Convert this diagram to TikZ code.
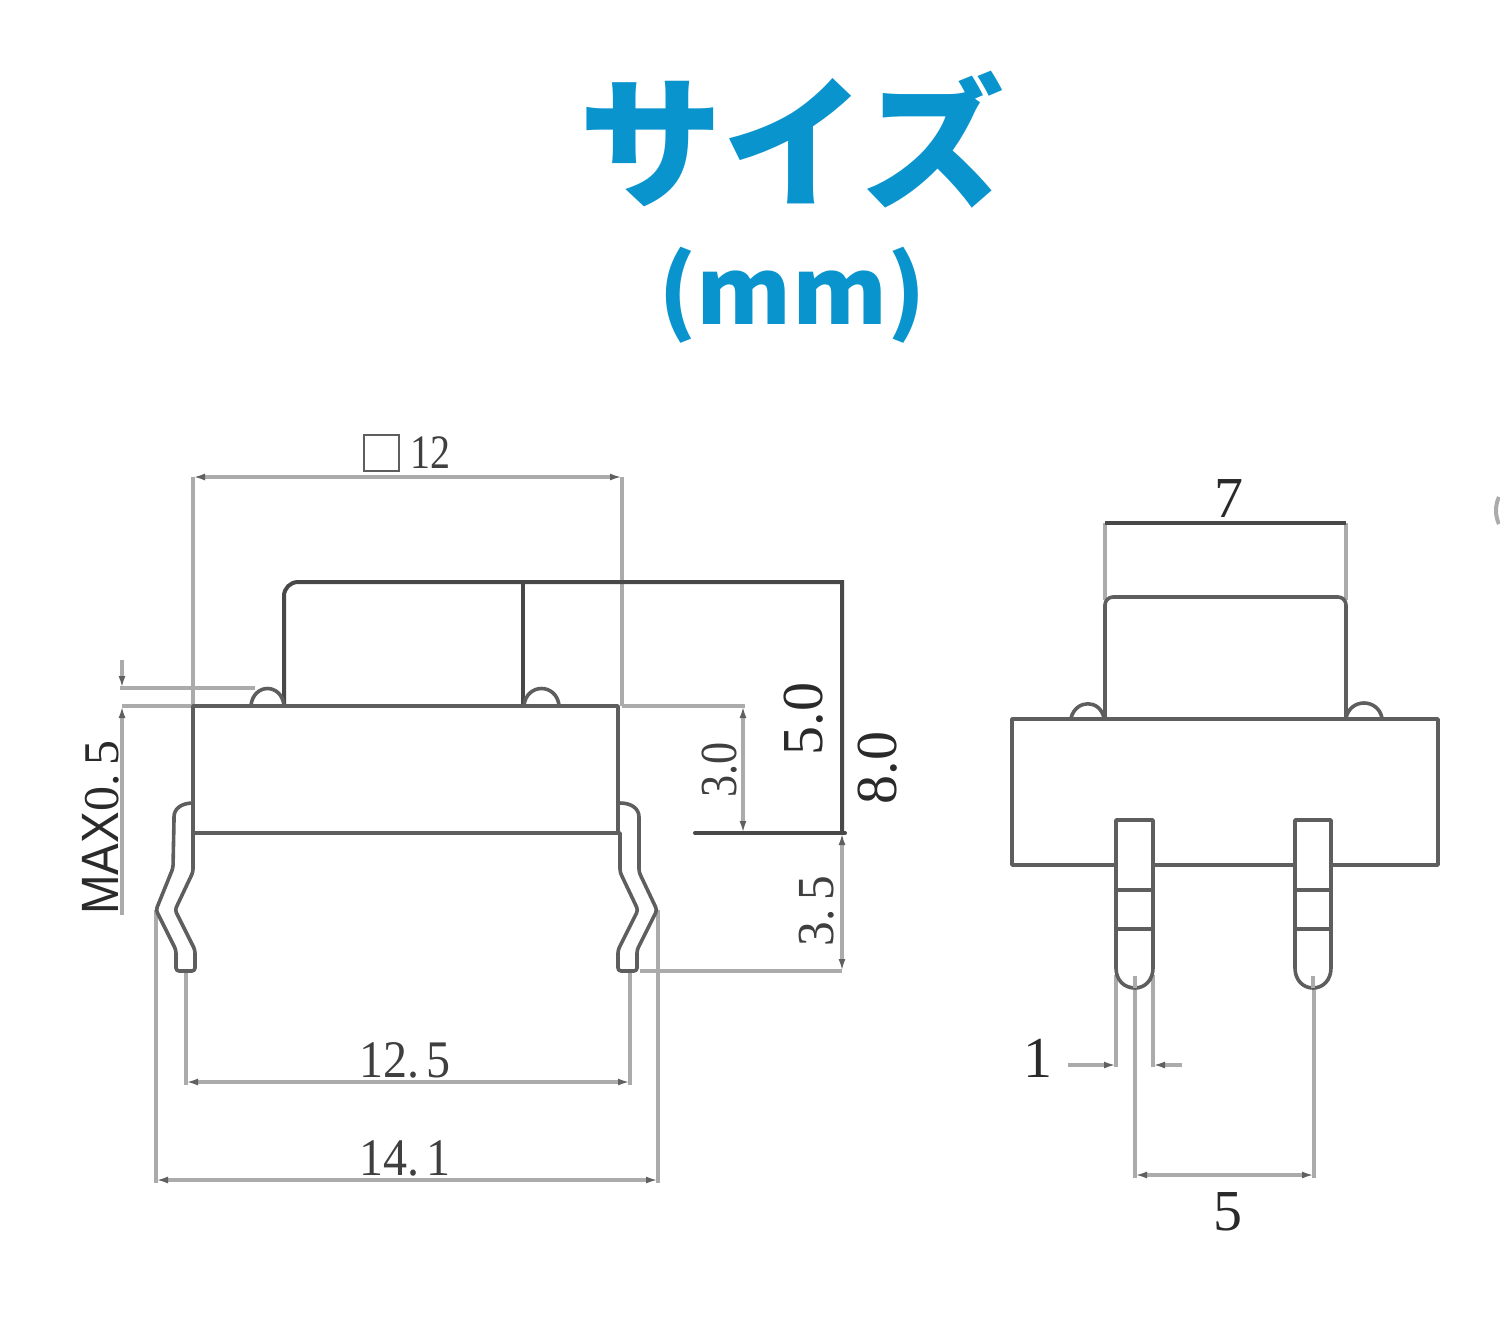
\documentclass[tikz,border=0pt]{standalone}
\usepackage{fontspec}
\usetikzlibrary{arrows.meta}
\setmainfont{Liberation Serif}
\newfontfamily\cjkfont{Noto Sans CJK JP}
\newfontfamily\sansfont{Liberation Sans}
\newcommand{\fsz}[1]{\fontsize{#1}{#1}\selectfont}
\definecolor{titleblue}{HTML}{0A94CE}
\definecolor{darkline}{HTML}{484848}
\definecolor{midline}{HTML}{5E5E5E}
\definecolor{dimline}{HTML}{ABABAB}
\definecolor{tipcol}{HTML}{606060}
\definecolor{txtcol}{HTML}{2A2A2A}
\tikzset{
  part/.style={draw=midline,line width=1.8pt,line join=round,line cap=round},
  pin/.style={part,rounded corners=1.5pt},
  heavy/.style={draw=darkline,line width=2pt,line cap=round},
  ext/.style={draw=dimline,line width=1.6pt},
  tipmark/.tip={Latex[length=6pt,width=3.5pt,color=tipcol]},
  dimarrow/.style={draw=dimline,line width=1.6pt,{tipmark}-{tipmark}},
  lab/.style={inner sep=0pt,text=txtcol},
  soft/.style={inner sep=0pt,text=txtcol!90!white},
}
\begin{document}
\begin{tikzpicture}[x=0.5pt,y=-0.5pt]
\useasboundingbox (0,0) rectangle (1500,1330);
% title
\node[inner sep=0pt,text=titleblue] (title) at (792,140) {\cjkfont\bfseries\fsz{71.5}サイズ};
\node[inner sep=0pt,text=titleblue] (unit) at (792,295) {\cjkfont\bfseries\fsz{46}\scalebox{1.05}[1]{(mm)}};

% ---- left view: dimension lines
\draw[ext] (193,477) -- (193,706);
\draw[ext] (622,477) -- (622,706);
\draw[dimarrow] (193,477) -- (622,477);
\draw[ext] (120,688) -- (255,688);
\draw[ext] (122,706) -- (193,706);
\draw[ext] (622,706) -- (745,706);
\draw[ext,-{tipmark}] (122,660) -- (122,688);
\draw[ext,-{tipmark}] (122,915) -- (122,706);
\draw[dimarrow] (743,706) -- (743,833);
\draw[ext] (640,971) -- (842,971);
\draw[dimarrow] (842,833) -- (842,971);
\draw[ext] (156,910) -- (156,1183);
\draw[ext] (658,910) -- (658,1183);
\draw[ext] (186,971) -- (186,1085);
\draw[ext] (630,971) -- (630,1085);
\draw[dimarrow] (186,1082) -- (630,1082);
\draw[dimarrow] (156,1180) -- (658,1180);

% ---- left view: part
\draw[heavy] (284,706) -- (284,596) arc[start angle=180,end angle=270,radius=14] -- (842,582) -- (842,833);
\draw[heavy] (523,582) -- (523,706);
\draw[part] (193,706) -- (618,706) -- (618,833) -- (193,833) -- cycle;
\draw[heavy] (695,833) -- (845,833);
\draw[part] (251,705) .. controls (254,683) and (281,683) .. (284,705);
\draw[part] (524,705) .. controls (527,683) and (556,683) .. (559,705);
% left pin
\draw[pin] (193,803) .. controls (181,803) and (174,809) .. (174,820) -- (173,868) -- (156,910) -- (176,950) -- (176,971) -- (195,971) -- (195,950) -- (175,910) -- (193,872) -- (193,833);
% right pin
\draw[pin] (620,803) .. controls (632,803) and (639,809) .. (639,820) -- (639,872) -- (657,910) -- (637,950) -- (637,971) -- (618,971) -- (618,950) -- (638,910) -- (620,872) -- (620,833);

% ---- left view: labels
\draw[draw=midline,line width=1.3pt] (364,435) rectangle (399,471);
\node[soft] (lab12) at (430,453) {\fsz{20}\scalebox{1}[1.2]{12}};
\node[soft] (lab125) at (405,1060) {\fsz{24}\scalebox{1}[1.1]{12.\,5}};
\node[soft] (lab141) at (405,1158) {\fsz{24}\scalebox{1}[1.1]{14.\,1}};
\node[soft,rotate=90] (lab30) at (720,770) {\fsz{26}\scalebox{0.85}[1.0]{3.0}};
\node[soft,rotate=90] (lab35) at (817,911) {\fsz{26}\scalebox{0.95}[1.0]{3.\,5}};
\node[lab,rotate=90] (lab50) at (804,719) {\fsz{29}5.0};
\node[lab,rotate=90] (lab80) at (878,768) {\fsz{29}8.0};
\node[lab,rotate=90,anchor=west] (labmax) at (101,915) {\fsz{25}\scalebox{0.95}[1.05]{\sansfont MAX}\scalebox{1}[1.0]{0.\,5}};

% ---- right view: dimension lines
\draw[ext] (1105,523) -- (1105,600);
\draw[ext] (1346,523) -- (1346,600);
\draw[draw=darkline,line width=1.6pt] (1105,523) -- (1346,523);
\draw[ext] (1116,975) -- (1116,1067);
\draw[ext] (1153,975) -- (1153,1067);
\draw[ext,-{tipmark}] (1068,1065) -- (1116,1065);
\draw[ext,-{tipmark}] (1182,1065) -- (1153,1065);
\draw[ext] (1135,975) -- (1135,1178);
\draw[ext] (1314,975) -- (1314,1178);
\draw[dimarrow] (1135,1175) -- (1314,1175);

% ---- right view: part
\draw[part] (1105,719) -- (1105,605) arc[start angle=180,end angle=270,radius=8] -- (1338,597) arc[start angle=270,end angle=360,radius=8] -- (1346,719);
\draw[part] (1071,718) .. controls (1076,699) and (1100,699) .. (1104,718);
\draw[part] (1346,718) .. controls (1350,698) and (1378,698) .. (1382,718);
\draw[part] (1012,719) rectangle (1438,865);
\draw[part,fill=white] (1116,820) -- (1153,820) -- (1153,968) .. controls (1153,980) and (1145,988) .. (1135,988) .. controls (1124,988) and (1116,980) .. (1116,968) -- cycle;
\draw[part,fill=white] (1295,820) -- (1331,820) -- (1331,968) .. controls (1331,980) and (1323,988) .. (1313,988) .. controls (1303,988) and (1295,980) .. (1295,968) -- cycle;
\draw[part] (1116,890) -- (1153,890);
\draw[part] (1116,929) -- (1153,929);
\draw[part] (1295,890) -- (1331,890);
\draw[part] (1295,929) -- (1331,929);
\draw[ext] (1135,976) -- (1135,988);
\draw[ext] (1313,976) -- (1313,988);

% ---- right view: labels
\node[lab] (lab7) at (1229,498) {\fsz{29}7};
\node[lab] (lab1) at (1038,1058) {\fsz{29}1};
\node[lab] (lab5) at (1228,1212) {\fsz{29}5};

% fragment at the right edge
\draw[draw=dimline,line width=2pt] (1499,497) .. controls (1495,505) and (1495,516) .. (1499,524);
\end{tikzpicture}
\end{document}
